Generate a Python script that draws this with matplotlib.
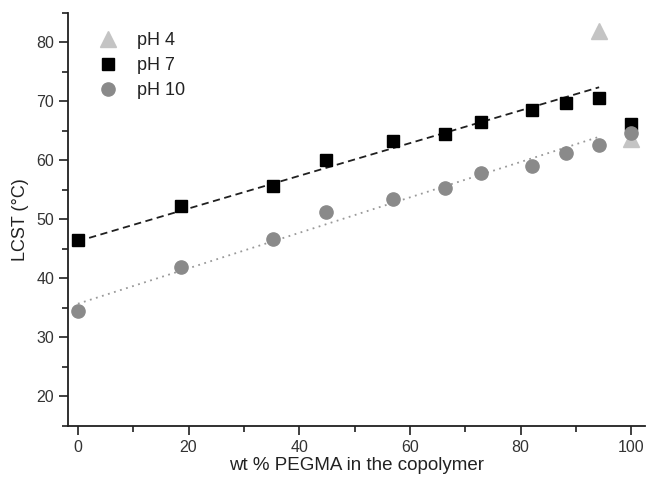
import matplotlib
matplotlib.use("Agg")
import matplotlib.pyplot as plt
from matplotlib.ticker import MultipleLocator

plt.rcParams['font.family'] = ['Liberation Sans', 'DejaVu Sans']

# data
ph4_x = [94.2, 100]
ph4_y = [82.0, 63.6]

ph7_x = [0, 18.7, 35.3, 44.8, 56.9, 66.4, 72.9, 82.0, 88.2, 94.2, 100]
ph7_y = [46.45, 52.2, 55.6, 60.05, 63.3, 64.5, 66.5, 68.55, 69.7, 70.65, 66.2]

ph10_x = [0, 18.7, 35.3, 44.8, 56.9, 66.4, 72.9, 82.0, 88.2, 94.2, 100]
ph10_y = [34.5, 42.0, 46.6, 51.2, 53.5, 55.4, 57.9, 59.0, 61.2, 62.6, 64.6]

fit_x = [0, 94.2]
fit7_y = [46.3, 72.4]
fit10_y = [35.7, 64.0]

xticks = [0, 20, 40, 60, 80, 100]
yticks = [20, 30, 40, 50, 60, 70, 80]

fig = plt.figure(figsize=(6.47, 4.79), dpi=100)
ax = fig.add_axes([0.105, 0.111, 0.892, 0.862])

ax.plot(fit_x, fit7_y, color='#202020', linestyle=(0, (4, 2.5)), linewidth=1.3, zorder=2)
ax.plot(fit_x, fit10_y, color='#999999', linestyle=(0, (1, 2.5)), linewidth=1.3, zorder=2)

ax.plot(ph4_x, ph4_y, linestyle='none', marker='^', ms=11, color='#c4c4c4', label='pH 4', zorder=3)
ax.plot(ph7_x, ph7_y, linestyle='none', marker='s', ms=8.5, color='black', label='pH 7', zorder=4)
ax.plot(ph10_x, ph10_y, linestyle='none', marker='o', ms=9.5, color='#8a8a8a', label='pH 10', zorder=5)

ax.set_xlim(-1.8, 102.5)
ax.set_ylim(15, 85)
ax.set_xticks(xticks)
ax.set_yticks(yticks)
ax.xaxis.set_minor_locator(MultipleLocator(10))
ax.yaxis.set_minor_locator(MultipleLocator(5))

for s in ['top', 'right']:
    ax.spines[s].set_visible(False)
for s in ['left', 'bottom']:
    ax.spines[s].set_linewidth(1.3)
    ax.spines[s].set_color('#202020')

ax.tick_params(which='major', direction='out', length=6.5, width=1.2, labelsize=11.5,
               labelcolor='#333333', color='#202020')
ax.tick_params(which='minor', direction='out', length=4, width=1.2, color='#202020')

ax.set_xlabel('wt % PEGMA in the copolymer', fontsize=13.5, color='#222222', labelpad=2)
ax.set_ylabel('LCST (°C)', fontsize=13, color='#222222', labelpad=5)

leg = ax.legend(loc='upper left', frameon=False, fontsize=13, handletextpad=0.6,
                borderaxespad=0.2, labelspacing=0.45, bbox_to_anchor=(0.02, 0.98))
for t in leg.get_texts():
    t.set_color('#222222')

fig.savefig('out.png', dpi=100)
